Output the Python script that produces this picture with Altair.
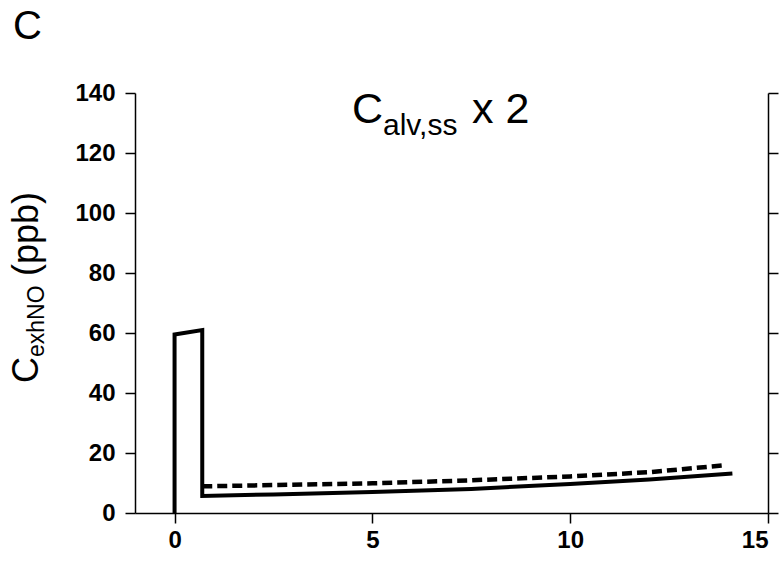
import altair as alt
import pandas as pd

# Exhaled NO concentration profiles (ppb) versus time (s)
solid_t = [0.0, 0.0, 0.7, 0.7, 2.5, 5.0, 7.5, 10.0, 12.0, 14.1]
solid_c = [0.0, 59.5, 61.0, 5.7, 6.2, 7.0, 8.0, 9.7, 11.2, 13.2]
dashed_t = [0.7, 2.5, 5.0, 7.5, 10.0, 12.0, 13.9]
dashed_c = [8.9, 9.3, 9.9, 10.9, 12.2, 13.6, 15.9]

x_ticks = [0, 5, 10, 15]
y_ticks = [0, 20, 40, 60, 80, 100, 120, 140]

FONT = "Liberation Sans"
W, H = 633, 420

solid = pd.DataFrame({"t": solid_t, "c": solid_c, "i": range(len(solid_t))})
dashed = pd.DataFrame({"t": dashed_t, "c": dashed_c, "i": range(len(dashed_t))})

x_scale = alt.Scale(domain=[-1, 15], nice=False, zero=False)
y_scale = alt.Scale(domain=[0, 140], nice=False)

x_axis = alt.Axis(values=x_ticks, orient="bottom", title=None, labelPadding=5, format="d")
y_axis_left = alt.Axis(values=y_ticks, orient="left", title=None, labelPadding=10, format="d")
y_axis_right = alt.Axis(values=y_ticks, orient="right", title=None, labels=False)

solid_line = alt.Chart(solid).mark_line(
    color="black", strokeWidth=4, strokeCap="butt", strokeJoin="miter"
).encode(
    x=alt.X("t:Q", scale=x_scale, axis=x_axis),
    y=alt.Y("c:Q", scale=y_scale, axis=y_axis_left),
    order="i:Q",
)

dashed_line = alt.Chart(dashed).mark_line(
    color="black", strokeWidth=4.5, strokeDash=[10, 5], strokeCap="butt"
).encode(
    x=alt.X("t:Q", scale=x_scale, axis=x_axis),
    y=alt.Y("c:Q", scale=y_scale, axis=y_axis_right),
    order="i:Q",
)


def label(text, x, y, size, angle=0, weight="normal"):
    return alt.Chart(pd.DataFrame({"s": [text]})).mark_text(
        font=FONT, fontSize=size, fontWeight=weight, color="black",
        align="left", baseline="alphabetic", angle=angle,
    ).encode(x=alt.value(x), y=alt.value(y), text="s:N")


texts = [
    # panel letter
    label("C", -122, -54, 40),
    # panel title: C_alv,ss x 2
    label("C", 217, 30, 43),
    label("alv,ss", 248, 42, 30),
    label("x 2", 337, 30, 43),
    # y-axis title: C_exhNO (ppb)
    label("C", -97, 290, 36, angle=270),
    label("exhNO", -91, 264, 23, angle=270),
    label("(ppb)", -97, 183, 36, angle=270),
]

chart = alt.layer(solid_line, dashed_line, *texts).resolve_axis(
    y="independent"
).properties(
    width=W, height=H,
    autosize=alt.AutoSizeParams(type="none"),
    padding={"left": 135, "top": 93, "right": 16, "bottom": 48},
    background="white",
).configure_view(stroke=None).configure_axis(
    grid=False,
    tickSize=10,
    tickColor="black",
    tickWidth=1.5,
    domainColor="black",
    domainWidth=1.5,
    labelFont=FONT,
    labelFontSize=24,
    labelFontWeight="bold",
    labelColor="black",
)

chart.save("out.html", embed_options={"renderer": "svg", "actions": False})
